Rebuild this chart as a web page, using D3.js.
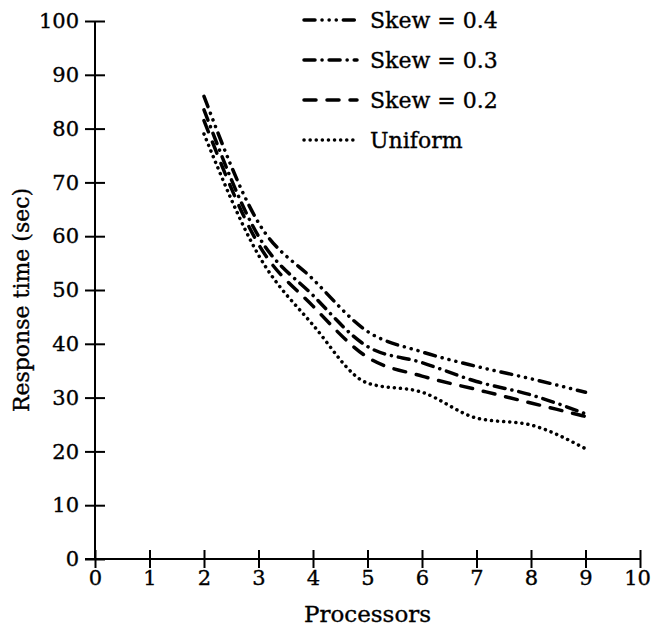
<!DOCTYPE html>
<html>
<head>
<meta charset="utf-8">
<script src="https://cdn.jsdelivr.net/npm/d3@7"></script>
<style>
  html, body { margin: 0; padding: 0; background: #fff; }
  svg { display: block; }
  text { font-family: "DejaVu Serif", serif; fill: #000; stroke: #000; stroke-width: 0.35px; }
</style>
</head>
<body>
<svg id="chart" width="651" height="632"></svg>
<script>
// ---- data ----
const processors = [2, 3, 4, 5, 6, 7, 8, 9];
const skew04 = [86, 62.5, 52, 42.3, 38.5, 35.8, 33.5, 31];
const skew03 = [83.5, 60, 49, 39.5, 36.5, 33, 30.5, 27];
const skew02 = [81.5, 58.5, 47, 37.5, 34, 31.5, 29, 26.5];
const uniform = [79, 56.5, 43.5, 32.7, 31, 26.2, 24.9, 20.5];
const seriesNames = ["Skew = 0.4", "Skew = 0.3", "Skew = 0.2", "Uniform"];
const xTicks = [0, 1, 2, 3, 4, 5, 6, 7, 8, 9, 10];
const yTicks = [0, 10, 20, 30, 40, 50, 60, 70, 80, 90, 100];

const series = [
  { name: seriesNames[0], values: skew04, dash: "11,7,0.1,7,0.1,7,0.1,7" },
  { name: seriesNames[1], values: skew03, dash: "11,7,0.1,7" },
  { name: seriesNames[2], values: skew02, dash: "12,11" },
  { name: seriesNames[3], values: uniform, dash: "0.1,6" }
];

const svg = d3.select("#chart");
const x = d3.scaleLinear().domain([0, 10]).range([95, 640]);
const y = d3.scaleLinear().domain([0, 100]).range([559, 21]);
const fs = 21;

// x axis
const gx = svg.append("g").attr("transform", `translate(0,${y(0)})`)
  .call(d3.axisBottom(x).tickValues(xTicks).tickFormat(d3.format("d")).tickSizeOuter(0).tickSizeInner(9).tickPadding(6));
gx.select(".domain").attr("stroke", "#000").attr("stroke-width", 2).attr("d", `M${x(0)-10},0H${x(10)}`);
gx.selectAll(".tick line").attr("stroke", "#000").attr("stroke-width", 2).attr("y1", -9).attr("y2", 9);
gx.selectAll(".tick text").attr("font-size", fs).attr("font-family", "DejaVu Serif").attr("dy", "0.85em").attr("y", 8)
  .attr("dx", d => d === 10 ? -3 : 0);

// y axis
const gy = svg.append("g").attr("transform", `translate(${x(0)},0)`)
  .call(d3.axisLeft(y).tickValues(yTicks).tickFormat(d3.format("d")).tickSizeOuter(0).tickSizeInner(10).tickPadding(6));
gy.select(".domain").attr("stroke", "#000").attr("stroke-width", 2).attr("d", `M0,${y(100)}V${y(0)}`);
gy.selectAll(".tick line").attr("stroke", "#000").attr("stroke-width", 2).attr("x1", -10).attr("x2", 10);
gy.selectAll(".tick text").attr("font-size", fs).attr("font-family", "DejaVu Serif").attr("x", -16);

// axis titles
svg.append("text").attr("x", x(5)).attr("y", 622).attr("text-anchor", "middle")
  .attr("font-size", 23).text("Processors");
svg.append("text").attr("transform", `translate(29,300) rotate(-90)`).attr("text-anchor", "middle")
  .attr("font-size", 22).text("Response time (sec)");

// lines
const line = d3.line()
  .x((d, i) => x(processors[i]))
  .y(d => y(d))
  .curve(d3.curveMonotoneX);

svg.append("g").selectAll("path").data(series).join("path")
  .attr("d", d => line(d.values))
  .attr("fill", "none")
  .attr("stroke", "#000")
  .attr("stroke-width", 3.5)
  .attr("stroke-linecap", "round")
  .attr("stroke-dasharray", d => d.dash);

// legend
const lg = svg.append("g");
const legY = [20, 60, 100, 140];
series.forEach((s, i) => {
  lg.append("line").attr("x1", 304).attr("x2", 357).attr("y1", legY[i]).attr("y2", legY[i])
    .attr("stroke", "#000").attr("stroke-width", 3.5).attr("stroke-linecap", "round")
    .attr("stroke-dasharray", s.dash);
  lg.append("text").attr("x", 370).attr("y", legY[i] + 8).attr("font-size", 22).text(s.name);
});
</script>
</body>
</html>
